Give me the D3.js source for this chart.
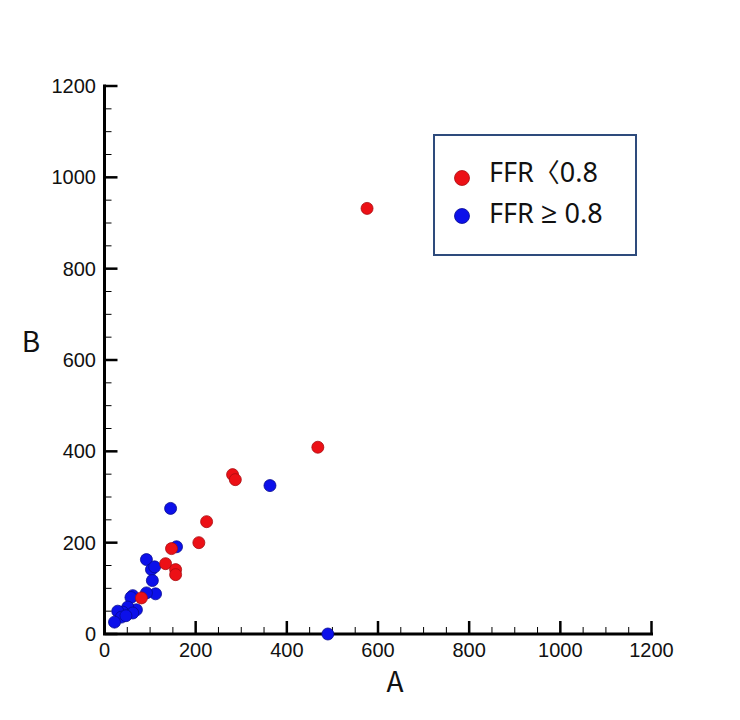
<!DOCTYPE html>
<html>
<head>
<meta charset="utf-8">
<script src="https://cdn.jsdelivr.net/npm/d3@7"></script>
<style>
  html, body { margin: 0; padding: 0; background: #fff; }
  svg { display: block; }
</style>
</head>
<body>
<svg id="chart" width="740" height="720"></svg>
<script>
// ---- data (A, B) ----
const redA  = [576, 468, 281, 287, 224, 207, 147, 134, 156, 156, 81];
const redB  = [932, 409, 349, 338, 246, 200, 187, 154, 141, 130, 79];
const blueA = [145, 363, 158, 490, 92, 103, 110, 105, 112, 92, 62, 58, 70, 51, 40, 29, 37, 22, 62, 47];
const blueB = [275, 325, 191, 0, 163, 141, 147, 117, 88, 90, 84, 80, 53, 59, 48, 50, 37, 26, 46, 40];
const majorTicks = [0, 200, 400, 600, 800, 1000, 1200];
const minorTicks = d3.range(50, 1200, 50).filter(v => v % 200 !== 0);
const legendPrefix = ["FFR", "FFR "];
const legendSymbol = ["\u3008", "\u2265"];
const legendSuffix = ["0.8", " 0.8"];
const seriesColors = ["#ec1016", "#0c10ea"];
const seriesStroke = ["#a80c10", "#060a90"];

const svg = d3.select("#chart");
const x = d3.scaleLinear().domain([0, 1200]).range([104.5, 651.5]);
const y = d3.scaleLinear().domain([0, 1200]).range([634, 86]);

const tickFont = "'Liberation Sans', Arial, sans-serif";
const cjkFont = "'Noto Sans CJK KR', 'Noto Sans', sans-serif";
const textFont = "'Noto Sans', 'Open Sans', sans-serif";

// minor ticks
const gMinor = svg.append("g").attr("stroke", "#000").attr("stroke-width", 1);
gMinor.selectAll("line.mx").data(minorTicks).join("line")
  .attr("x1", d => x(d)).attr("x2", d => x(d))
  .attr("y1", y(0)).attr("y2", y(0) - 7);
gMinor.selectAll("line.my").data(minorTicks).join("line")
  .attr("y1", d => y(d)).attr("y2", d => y(d))
  .attr("x1", x(0)).attr("x2", x(0) + 7);

// major ticks
const gMajor = svg.append("g").attr("stroke", "#000").attr("stroke-width", 2.5);
gMajor.selectAll("line.Mx").data(majorTicks).join("line")
  .attr("x1", d => x(d)).attr("x2", d => x(d))
  .attr("y1", y(0)).attr("y2", y(0) - 13);
gMajor.selectAll("line.My").data(majorTicks).join("line")
  .attr("y1", d => y(d)).attr("y2", d => y(d))
  .attr("x1", x(0)).attr("x2", x(0) + 13);

// axis lines
svg.append("path")
  .attr("d", `M${x(0)},${y(1200)} L${x(0)},${y(0)} L${x(1200)},${y(0)}`)
  .attr("fill", "none").attr("stroke", "#000").attr("stroke-width", 3)
  .attr("stroke-linecap", "square");

// tick labels
svg.append("g").selectAll("text").data(majorTicks).join("text")
  .attr("x", d => x(d)).attr("y", 657)
  .attr("text-anchor", "middle")
  .attr("font-family", tickFont).attr("font-size", 20).attr("fill", "#111")
  .text(d => d);
svg.append("g").selectAll("text").data(majorTicks).join("text")
  .attr("x", 96).attr("y", d => y(d) + 7)
  .attr("text-anchor", "end")
  .attr("font-family", tickFont).attr("font-size", 20).attr("fill", "#111")
  .text(d => d);

// axis titles
svg.append("text").attr("x", 395).attr("y", 692).attr("text-anchor", "middle")
  .attr("font-family", cjkFont).attr("font-size", 28).attr("fill", "#111").text("A");
svg.append("text").attr("x", 31).attr("y", 352).attr("text-anchor", "middle")
  .attr("font-family", cjkFont).attr("font-size", 28).attr("fill", "#111").text("B");

// points
const red = redA.map((a, i) => ({a, b: redB[i]}));
const blue = blueA.map((a, i) => ({a, b: blueB[i]}));
svg.append("g").selectAll("circle").data(blue).join("circle")
  .attr("cx", d => x(d.a)).attr("cy", d => y(d.b)).attr("r", 6)
  .attr("fill", seriesColors[1]).attr("stroke", seriesStroke[1]).attr("stroke-width", 0.8);
svg.append("g").selectAll("circle").data(red).join("circle")
  .attr("cx", d => x(d.a)).attr("cy", d => y(d.b)).attr("r", 6)
  .attr("fill", seriesColors[0]).attr("stroke", seriesStroke[0]).attr("stroke-width", 0.8);

// legend
const lg = svg.append("g");
lg.append("rect").attr("x", 434).attr("y", 135).attr("width", 202).attr("height", 120)
  .attr("fill", "#fff").attr("stroke", "#2e4b7c").attr("stroke-width", 2);
const rows = [0, 1];
lg.selectAll("circle").data(rows).join("circle")
  .attr("cx", 462).attr("cy", i => 178 + i * 38).attr("r", 7.5)
  .attr("fill", i => seriesColors[i]).attr("stroke", i => seriesStroke[i]).attr("stroke-width", 0.8);
const lt = lg.selectAll("text").data(rows).join("text")
  .attr("x", 489).attr("y", i => 182 + i * 41)
  .attr("font-family", textFont).attr("font-size", 27).attr("fill", "#111");
lt.append("tspan").text(i => legendPrefix[i]);
lt.append("tspan")
  .attr("font-family", i => i === 0 ? cjkFont : textFont)
  .attr("font-size", i => i === 0 ? 26 : 29)
  .text(i => legendSymbol[i]);
lt.append("tspan").text(i => legendSuffix[i]);
</script>
</body>
</html>
